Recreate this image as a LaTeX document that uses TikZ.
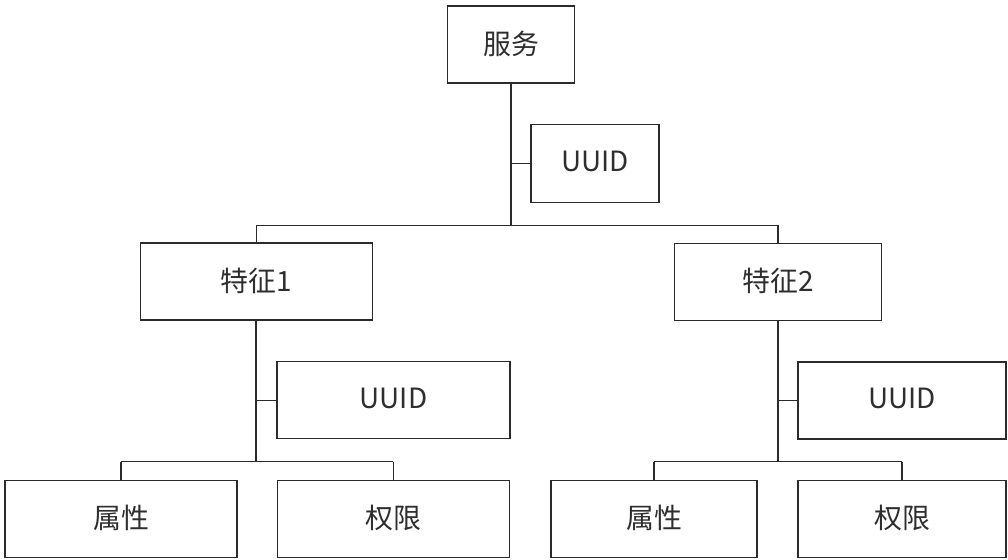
\documentclass[tikz,border=0pt]{standalone}
\usepackage{fontspec}
\setmainfont{Noto Sans CJK SC}
\newcommand{\lbl}[1]{\raisebox{4bp}{#1}}
\begin{document}
\begin{tikzpicture}[x=1bp,y=-1bp,
  box/.style={draw=linec,line width=1.3bp,inner sep=0pt,text=textc,font=\fontsize{28}{32}\selectfont},
  trunk/.style={draw=linec,line width=2bp},
  bar/.style={draw=linec,line width=1.3bp}]
\definecolor{linec}{HTML}{2B2B2B}
\definecolor{textc}{HTML}{2E2E2E}
\useasboundingbox (0,0) rectangle (1008,560);
% boxes
\node[box,minimum width=127bp,minimum height=77bp] (srv) at (511,44.5) {\lbl{服务}};
\node[box,minimum width=128bp,minimum height=78bp] (u0) at (595,163.3) {\lbl{UUID}};
\node[box,minimum width=232bp,minimum height=77bp] (f1) at (256.3,281.5) {\lbl{特征1}};
\node[box,minimum width=207bp,minimum height=77bp] (f2) at (778,281.8) {\lbl{特征2}};
\node[box,minimum width=233bp,minimum height=77bp] (u1) at (393.5,400.3) {\lbl{UUID}};
\node[box,minimum width=208bp,minimum height=77bp] (u2) at (902,400.5) {\lbl{UUID}};
\node[box,minimum width=232bp,minimum height=77bp] (a1) at (121,518.8) {\lbl{属性}};
\node[box,minimum width=232bp,minimum height=77bp] (p1) at (393.3,518.8) {\lbl{权限}};
\node[box,minimum width=206bp,minimum height=77bp] (a2) at (654,518.8) {\lbl{属性}};
\node[box,minimum width=208bp,minimum height=77bp] (p2) at (902,518.8) {\lbl{权限}};
% junctions
\coordinate (j0) at (511,225.3);
\coordinate (j1) at (256.3,461.5);
\coordinate (j2) at (778,461.5);
% top level
\draw[trunk] (srv.south) -- (j0);
\draw[bar] (srv.south |- u0.west) -- (u0.west);
\draw[bar] (f1.north |- j0) -- (f2.north |- j0);
\draw[bar] (f1.north |- j0) -- (f1.north);
\draw[bar] (f2.north |- j0) -- (f2.north);
% left feature
\draw[trunk] (f1.south) -- (j1);
\draw[bar] (f1.south |- u1.west) -- (u1.west);
\draw[bar] (a1.north |- j1) -- (p1.north |- j1);
\draw[bar] (a1.north |- j1) -- (a1.north);
\draw[bar] (p1.north |- j1) -- (p1.north);
% right feature
\draw[trunk] (f2.south) -- (j2);
\draw[bar] (f2.south |- u2.west) -- (u2.west);
\draw[bar] (a2.north |- j2) -- (p2.north |- j2);
\draw[bar] (a2.north |- j2) -- (a2.north);
\draw[bar] (p2.north |- j2) -- (p2.north);
\end{tikzpicture}
\end{document}
